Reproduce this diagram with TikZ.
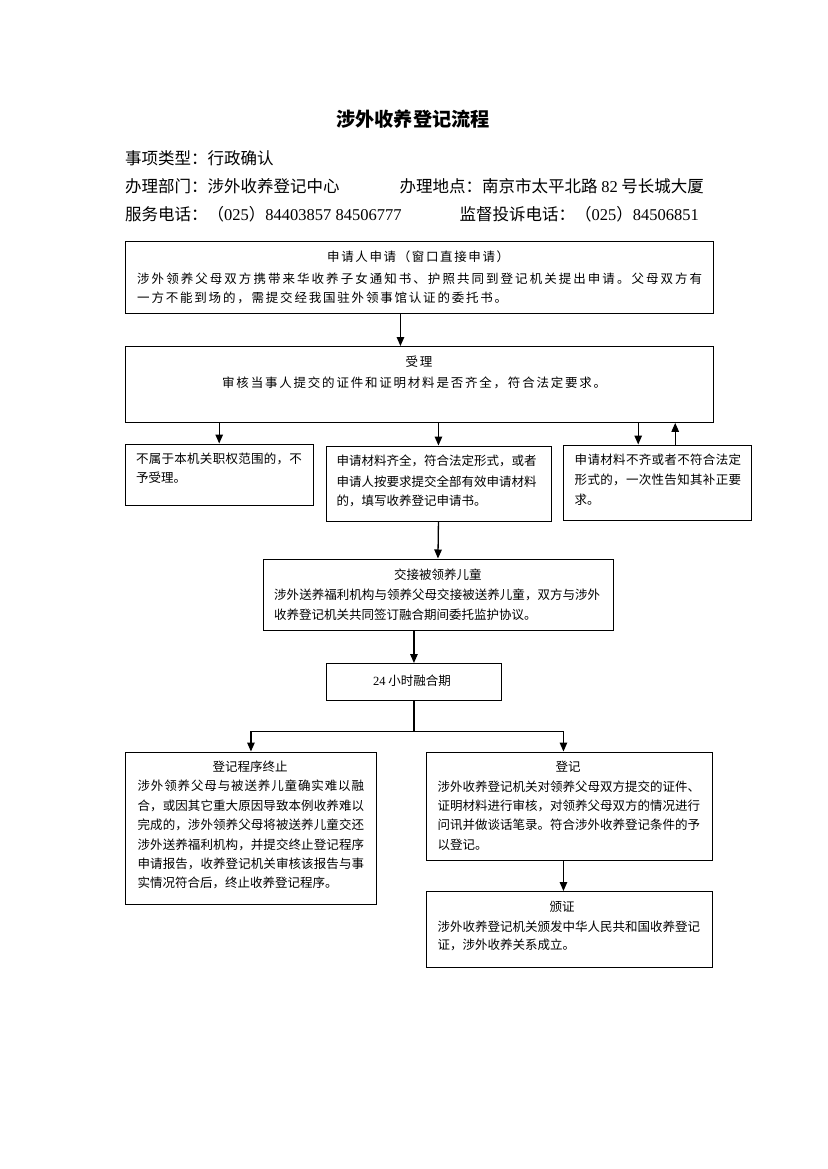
\documentclass[tikz,border=0pt]{standalone}
\usepackage{fontspec}
\setmainfont{Noto Sans CJK SC}
\newfontfamily\tnr{Liberation Serif}
\usetikzlibrary{arrows.meta}
\makeatletter
\newcommand\spreadtxt[2]{\hbox to #1{\@tfor\sp@c:=#2\do{\sp@c\hfil}\unskip}}
\makeatother
\newcommand\fz[1]{\fontsize{#1}{#1}\selectfont}
\tikzset{
  bx/.style={draw, line width=0.9pt, inner sep=0pt, anchor=north west},
  tl/.style={inner sep=0pt, anchor=west, font=\fz{12.5}},
  tc/.style={inner sep=0pt, anchor=center, font=\fz{12.5}},
  hd/.style={inner sep=0pt, anchor=west, font=\fz{16.5}},
  arr/.style={line width=1.3pt, -{Triangle[length=9pt,width=7.5pt]}},
  ln/.style={line width=1.3pt},
}
\begin{document}
\begin{tikzpicture}[x=1pt, y=-1pt]
\useasboundingbox[fill=white] (0,0) rectangle (827,1169);

% header
\node[inner sep=0pt, font=\fz{19.2}\bfseries] (title) at (413,119.3) {涉外收养登记流程};
\node[hd] (h1) at (125,158) {事项类型：行政确认};
\node[hd] (h2) at (125,186) {办理部门：涉外收养登记中心};
\node[hd] (h3) at (399.4,186) {办理地点：南京市太平北路 {\tnr 82} 号长城大厦};
\node[hd] (h4) at (125,214.6) {服务电话：（{\tnr 025}）{\tnr 84403857 84506777}};
\node[hd, anchor=east] (h5) at (699,214.6) {监督投诉电话：（{\tnr 025}）{\tnr 84506851}};

% box 1
\node[bx, minimum width=588pt, minimum height=72pt] (b1) at (125,241) {};
\node[tl] (b1t) at (327,256.4) {\spreadtxt{182pt}{申请人申请（窗口直接申请）}};
\node[tl] (b1l1) at (137,278.7) {\spreadtxt{565pt}{涉外领养父母双方携带来华收养子女通知书、护照共同到登记机关提出申请。父母双方有}};
\node[tl] (b1l2) at (137,297.6) {\spreadtxt{370pt}{一方不能到场的，需提交经我国驻外领事馆认证的委托书。}};

% box 2
\node[bx, minimum width=588pt, minimum height=76pt] (b2) at (125,346) {};
\node[tc] (b2t) at (419,361.6) {\spreadtxt{26.8pt}{受理}};
\node[tl] (b2l1) at (222,382.5) {\spreadtxt{384pt}{审核当事人提交的证件和证明材料是否齐全，符合法定要求。}};

% box 3a
\node[bx, minimum width=187.5pt, minimum height=61.5pt] (b3a) at (125,443.5) {};
\node[tl] (b3al1) at (136,459) {\spreadtxt{165.6pt}{不属于本机关职权范围的，不}};
\node[tl] (b3al2) at (136,478) {予受理。};

% box 3b
\node[bx, minimum width=225pt, minimum height=75.5pt] (b3b) at (325.5,445.5) {};
\node[tl] (b3bl1) at (336.5,461.3) {\spreadtxt{200pt}{申请材料齐全，符合法定形式，或者}};
\node[tl] (b3bl2) at (336.5,481.2) {\spreadtxt{200pt}{申请人按要求提交全部有效申请材料}};
\node[tl] (b3bl3) at (336.5,501.1) {的，填写收养登记申请书。};

% box 3c
\node[bx, minimum width=188.5pt, minimum height=75.5pt] (b3c) at (562.5,444.5) {};
\node[tl] (b3cl1) at (574.5,459.6) {\spreadtxt{166.4pt}{申请材料不齐或者不符合法定}};
\node[tl] (b3cl2) at (574.5,479.5) {\spreadtxt{166.4pt}{形式的，一次性告知其补正要}};
\node[tl] (b3cl3) at (574.5,499.5) {求。};

% box 4
\node[bx, minimum width=350pt, minimum height=71pt] (b4) at (262.5,558.5) {};
\node[tc] (b4t) at (437.8,574.9) {交接被领养儿童};
\node[tl] (b4l1) at (274,595.2) {\spreadtxt{326pt}{涉外送养福利机构与领养父母交接被送养儿童，双方与涉外}};
\node[tl] (b4l2) at (274,614.4) {收养登记机关共同签订融合期间委托监护协议。};

% box 5
\node[bx, minimum width=175pt, minimum height=37pt] (b5) at (326,663) {};
\node[tc] (b5t) at (412,681.2) {{\tnr 24} 小时融合期};

% box 6 left
\node[bx, minimum width=251pt, minimum height=152.5pt] (b6l) at (125,751.5) {};
\node[tc] (b6lt) at (250,767) {登记程序终止};
\node[tl] (b6l1) at (137.4,786) {\spreadtxt{226.5pt}{涉外领养父母与被送养儿童确实难以融}};
\node[tl] (b6l2) at (137.4,805.6) {\spreadtxt{226.5pt}{合，或因其它重大原因导致本例收养难以}};
\node[tl] (b6l3) at (137.4,824.7) {\spreadtxt{226.5pt}{完成的，涉外领养父母将被送养儿童交还}};
\node[tl] (b6l4) at (137.4,844.5) {\spreadtxt{226.5pt}{涉外送养福利机构，并提交终止登记程序}};
\node[tl] (b6l5) at (137.4,863.7) {\spreadtxt{226.5pt}{申请报告，收养登记机关审核该报告与事}};
\node[tl] (b6l6) at (137.4,882.8) {实情况符合后，终止收养登记程序。};

% box 6 right
\node[bx, minimum width=286pt, minimum height=108.5pt] (b6r) at (426,751.5) {};
\node[tc] (b6rt) at (568,767) {登记};
\node[tl] (b6r1) at (437.4,787) {\spreadtxt{262pt}{涉外收养登记机关对领养父母双方提交的证件、}};
\node[tl] (b6r2) at (437.4,805.6) {\spreadtxt{262pt}{证明材料进行审核，对领养父母双方的情况进行}};
\node[tl] (b6r3) at (437.4,825) {\spreadtxt{262pt}{问讯并做谈话笔录。符合涉外收养登记条件的予}};
\node[tl] (b6r4) at (437.4,844.5) {以登记。};

% box 7
\node[bx, minimum width=286pt, minimum height=75.5pt] (b7) at (426,891) {};
\node[tc] (b7t) at (562,906.6) {颁证};
\node[tl] (b7l1) at (437.4,926.4) {\spreadtxt{262pt}{涉外收养登记机关颁发中华人民共和国收养登记}};
\node[tl] (b7l2) at (437.4,944.5) {证，涉外收养关系成立。};

% connectors
\coordinate (c12t) at ([xshift=-19pt]b1.south);
\coordinate (c12b) at ([xshift=-19pt]b2.north);
\coordinate (c3cd) at ([xshift=-19pt]b3c.north);
\coordinate (c3cu) at ([xshift=18pt]b3c.north);
\coordinate (c6r) at ([xshift=-6pt]b6r.north);
\coordinate (c6rs) at ([xshift=-6pt]b6r.south);
\coordinate (c7) at ([xshift=-6pt]b7.north);
\coordinate (j) at ([yshift=-30.5pt]b5.south);
\draw[arr] (c12t) -- (c12b);
\draw[arr] (b2.south -| b3a.north) -- (b3a.north);
\draw[arr] (b2.south -| b3b.north) -- (b3b.north);
\draw[arr] (b2.south -| c3cd) -- (c3cd);
\draw[arr] (c3cu) -- (b2.south -| c3cu);
\draw[arr] (b3b.south) -- (b4.north);
\draw[arr] (b4.south -| b5.north) -- (b5.north);
\draw[ln] (b5.south) -- (j);
\draw[arr] (j) -| (b6l.north);
\draw[arr] (j) -| (c6r);
\draw[arr] (c6rs) -- (c7);
\end{tikzpicture}
\end{document}
